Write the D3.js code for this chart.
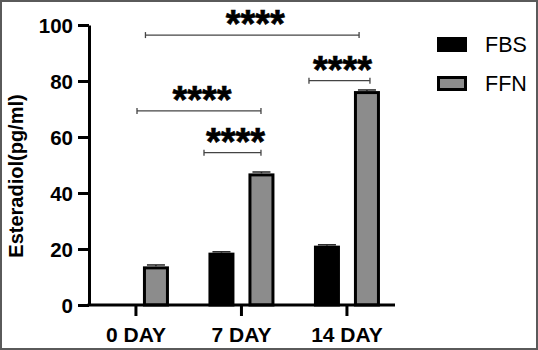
<!DOCTYPE html>
<html>
<head>
<meta charset="utf-8">
<script src="https://cdn.jsdelivr.net/npm/d3@7"></script>
<style>
  html, body { margin: 0; padding: 0; background: #fff; }
  svg { display: block; }
</style>
</head>
<body>
<svg id="chart" width="538" height="350"></svg>
<script>
// ---- data ----
const categories = ["0 DAY", "7 DAY", "14 DAY"];
const seriesNames = ["FBS", "FFN"];
const fbsValues = [0, 18.7, 21.2];
const ffnValues = [13.8, 47.0, 76.4];
const fbsErrors = [0, 0.3, 0.3];
const ffnErrors = [0.5, 0.5, 0.4];
const yTicks = [0, 20, 40, 60, 80, 100];
const yTitle = "Esteradiol(pg/ml)";
// significance comparisons: group-coordinate endpoints (0 = "0 DAY" tick), level in pg/ml
const sigFrom = [0.09, 0.01, 0.645, 1.64];
const sigTo = [2.115, 1.185, 1.185, 2.218];
const sigLevel = [96.4, 69.3, 54.4, 80.1];
const sigLabel = ["****", "****", "****", "****"];

// ---- layout ----
const svg = d3.select("#chart");
const W = 538, H = 350;
const plot = { left: 89, right: 395, top: 25, bottom: 305 };
const font = "Arial, 'Liberation Sans', sans-serif";
const colors = { FBS: "#000000", FFN: "#8c8c8c" };

svg.append("rect").attr("x", 1).attr("y", 1).attr("width", W - 2).attr("height", H - 2)
  .attr("fill", "#fff").attr("stroke", "#5a5a5a").attr("stroke-width", 2);

const y = d3.scaleLinear().domain([0, 100]).range([plot.bottom, plot.top]);
const xGroup = d3.scaleBand().domain(categories).range([83.2, 399.7]).padding(0);
const bw = xGroup.bandwidth();
const xSub = d3.scaleBand().domain(seriesNames).range([bw / 2 - 33, bw / 2 + 33]).paddingInner(0.35).paddingOuter(0);
const xPos = d3.scaleLinear().domain([0, 2]).range([xGroup(categories[0]) + bw / 2, xGroup(categories[2]) + bw / 2]);

const rows = categories.map((c, i) => ({
  cat: c,
  vals: [
    { s: "FBS", v: fbsValues[i], e: fbsErrors[i] },
    { s: "FFN", v: ffnValues[i], e: ffnErrors[i] }
  ]
}));

// bars
const sw = 3;
const g = svg.append("g");
rows.forEach(r => {
  r.vals.forEach(d => {
    if (d.v <= 0) return;
    const x0 = xGroup(r.cat) + xSub(d.s);
    const w = xSub.bandwidth();
    g.append("rect")
      .attr("x", x0 + sw / 2).attr("y", y(d.v) + sw / 2)
      .attr("width", w - sw).attr("height", y(0) - y(d.v) - sw / 2)
      .attr("fill", colors[d.s]).attr("stroke", "#000").attr("stroke-width", sw);
    // error cap
    const cx = x0 + w / 2;
    g.append("line").attr("x1", cx).attr("x2", cx)
      .attr("y1", y(d.v)).attr("y2", y(d.v + d.e))
      .attr("stroke", "#222").attr("stroke-width", 1.5);
    g.append("line").attr("x1", cx - 9).attr("x2", cx + 9)
      .attr("y1", y(d.v + d.e)).attr("y2", y(d.v + d.e))
      .attr("stroke", "#222").attr("stroke-width", 1.5);
  });
});

// y axis
const yAxis = svg.append("g").attr("transform", `translate(${plot.left},0)`)
  .call(d3.axisLeft(y).tickValues(yTicks).tickSize(11).tickSizeOuter(0).tickPadding(5));
yAxis.select(".domain").attr("stroke", "#000").attr("stroke-width", 3);
yAxis.selectAll(".tick line").attr("stroke", "#000").attr("stroke-width", 3);
yAxis.selectAll(".tick text").attr("font-family", font).attr("font-weight", "bold")
  .attr("font-size", 20.5).attr("fill", "#000").attr("dy", "0.38em");

// x axis
const xAxis = svg.append("g").attr("transform", `translate(0,${plot.bottom})`)
  .call(d3.axisBottom(xGroup).tickSize(11).tickSizeOuter(0).tickPadding(11));
xAxis.select(".domain").remove();
xAxis.selectAll(".tick line").attr("stroke", "#000").attr("stroke-width", 3);
xAxis.selectAll(".tick text").attr("font-family", font).attr("font-weight", "bold")
  .attr("font-size", 21).attr("fill", "#000").attr("dy", "0.72em");
svg.append("line").attr("x1", plot.left - 1.5).attr("x2", plot.right)
  .attr("y1", y(0)).attr("y2", y(0)).attr("stroke", "#000").attr("stroke-width", 3);

// y title
svg.append("text").attr("transform", `translate(23,${(plot.top + plot.bottom) / 2 + 11}) rotate(-90)`)
  .attr("text-anchor", "middle").attr("font-family", font).attr("font-weight", "bold")
  .attr("font-size", 20).attr("fill", "#000").text(yTitle);

// significance brackets
sigFrom.forEach((f, i) => {
  const x1 = xPos(f), x2 = xPos(sigTo[i]), yy = y(sigLevel[i]);
  const b = svg.append("g").attr("stroke", "#444").attr("stroke-width", 1.3);
  b.append("line").attr("x1", x1).attr("x2", x2).attr("y1", yy).attr("y2", yy);
  b.append("line").attr("x1", x1).attr("x2", x1).attr("y1", yy - 3).attr("y2", yy + 3);
  b.append("line").attr("x1", x2).attr("x2", x2).attr("y1", yy - 3).attr("y2", yy + 3);
  svg.append("text").attr("x", (x1 + x2) / 2 + 3).attr("y", yy + 2)
    .attr("text-anchor", "middle").attr("font-family", font).attr("font-weight", "bold")
    .attr("font-size", 38).attr("fill", "#000").attr("stroke", "#000").attr("stroke-width", 0.6)
    .text(sigLabel[i]);
});

// legend
const leg = svg.append("g");
seriesNames.forEach((s, i) => {
  const ly = 37 + i * 39;
  leg.append("rect").attr("x", 437 + (s === "FFN" ? 1.5 : 0)).attr("y", ly + (s === "FFN" ? 1.5 : 0))
    .attr("width", s === "FFN" ? 27 : 30).attr("height", s === "FFN" ? 12 : 15)
    .attr("fill", colors[s]).attr("stroke", s === "FFN" ? "#000" : "none").attr("stroke-width", 3);
  leg.append("text").attr("x", 485).attr("y", ly + 15)
    .attr("font-family", font).attr("font-size", 21.5).attr("fill", "#000").text(s);
});
</script>
</body>
</html>
